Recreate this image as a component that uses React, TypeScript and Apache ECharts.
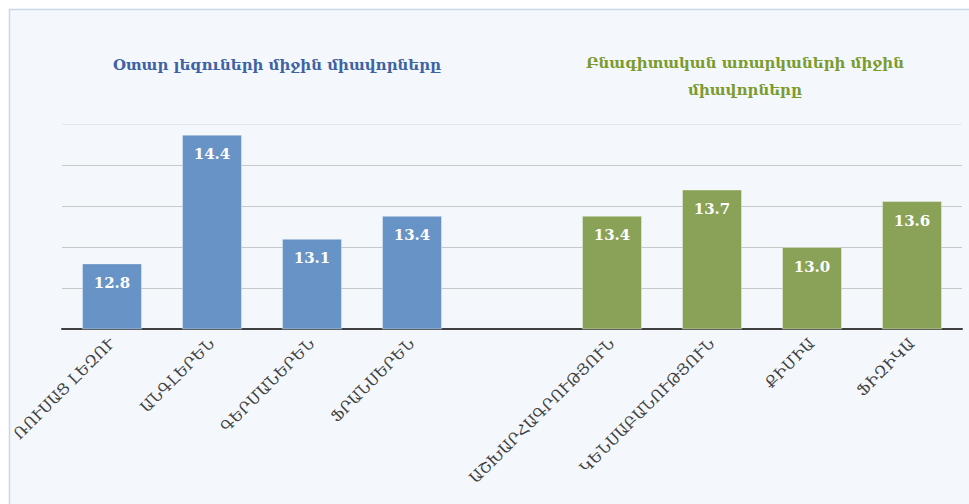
import React, { useEffect, useRef } from "react";
import * as echarts from "echarts";

const categories = [
  "ՌՈՒՍԱՑ ԼԵԶՈՒ",
  "ԱՆԳԼԵՐԵՆ",
  "ԳԵՐՄԱՆԵՐԵՆ",
  "ՖՐԱՆՍԵՐԵՆ",
  "",
  "ԱՇԽԱՐՀԱԳՐՈՒԹՅՈՒՆ",
  "ԿԵՆՍԱԲԱՆՈՒԹՅՈՒՆ",
  "ՔԻՄԻԱ",
  "ՖԻԶԻԿԱ",
];
const values: (number | null)[] = [12.8, 14.37, 13.1, 13.38, null, 13.38, 13.7, 13.0, 13.56];
const groups = ["lang", "lang", "lang", "lang", "", "sci", "sci", "sci", "sci"];
const titleLang = "Օտար լեզուների միջին միավորները";
const titleSci1 = "Բնագիտական առարկաների միջին";
const titleSci2 = "միավորները";

const colors: Record<string, string> = { lang: "#6893C6", sci: "#89A257" };
const FONT = "'DejaVu Serif', serif";

export default function App() {
  const ref = useRef<HTMLDivElement>(null);
  useEffect(() => {
    const chart = echarts.init(ref.current!, null, { renderer: "svg" });
    chart.setOption({
      animation: false,
      backgroundColor: "#FFFFFF",
      graphic: [
        {
          type: "rect",
          z: -10,
          shape: { x: 9.5, y: 9.5, width: 980, height: 520 },
          style: { fill: "#F4F8FC", stroke: "#C8D8EC", lineWidth: 1.5 },
        },
        {
          type: "text",
          x: 277,
          y: 65,
          style: {
            text: titleLang,
            fill: "#3E62A3",
            font: `bold 15px ${FONT}`,
            align: "center",
            verticalAlign: "middle",
          },
        },
        {
          type: "text",
          x: 745,
          y: 63,
          style: {
            text: titleSci1,
            fill: "#7C9B2F",
            font: `bold 15px ${FONT}`,
            align: "center",
            verticalAlign: "middle",
          },
        },
        {
          type: "text",
          x: 745,
          y: 90,
          style: {
            text: titleSci2,
            fill: "#7C9B2F",
            font: `bold 15px ${FONT}`,
            align: "center",
            verticalAlign: "middle",
          },
        },
      ],
      grid: { left: 62, right: 7, top: 124, bottom: 175, containLabel: false },
      xAxis: {
        type: "category",
        data: categories,
        axisLine: { show: true, lineStyle: { color: "#404040", width: 2 } },
        axisTick: { show: false },
        axisLabel: {
          interval: 0,
          rotate: 45,
          margin: 12,
          color: "#404040",
          fontSize: 15.5,
          fontFamily: FONT,
        },
      },
      yAxis: {
        type: "value",
        min: 12,
        max: 14.5,
        interval: 0.5,
        axisLabel: { show: false },
        axisLine: { show: false },
        axisTick: { show: false },
        splitLine: {
          lineStyle: {
            color: ["#C8C8C8", "#C8C8C8", "#C8C8C8", "#C8C8C8", "#C8C8C8", "#E3E7EB"],
            width: 1,
          },
        },
      },
      series: [
        {
          type: "bar",
          barWidth: 60,
          data: values.map((v, i) =>
            v === null
              ? "-"
              : {
                  value: v,
                  itemStyle: {
                    color: colors[groups[i]],
                    borderColor: "rgba(255,255,255,0.35)",
                    borderWidth: 1,
                  },
                }
          ),
          label: {
            show: true,
            position: "insideTop",
            distance: 12,
            color: "#FFFFFF",
            fontWeight: "bold",
            fontSize: 15,
            fontFamily: FONT,
            formatter: (p: any) => Number(p.value).toFixed(1),
          },
        },
      ],
    });
    return () => chart.dispose();
  }, []);
  return (
    <div
      ref={ref}
      style={{ position: "absolute", left: 0, top: 0, width: 969, height: 504 }}
    />
  );
}
